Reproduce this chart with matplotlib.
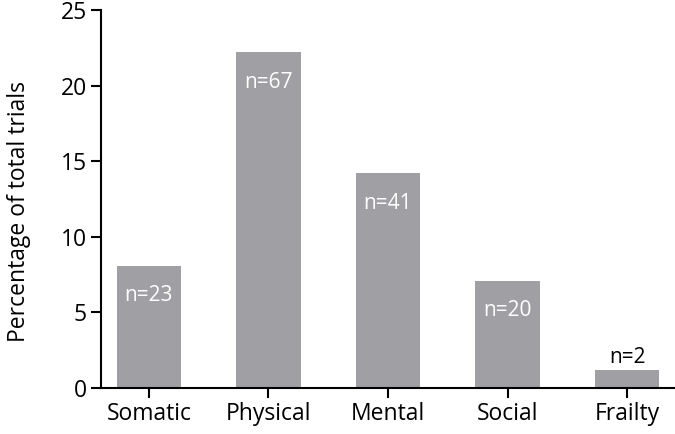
import matplotlib
matplotlib.use("Agg")
import matplotlib.pyplot as plt

plt.rcParams['font.family'] = ['Open Sans', 'DejaVu Sans']

categories = ['Somatic', 'Physical', 'Mental', 'Social', 'Frailty']
percentages = [8.1, 22.2, 14.2, 7.1, 1.2]
counts = [23, 67, 41, 20, 2]

fig = plt.figure(figsize=(6.75, 4.34), dpi=100)
ax = fig.add_axes([0.1496, 0.106, 0.8504, 0.871])

x = range(len(categories))
bars = ax.bar(x, percentages, width=0.54, color='#a0a0a4')

for xi, val, n in zip(x, percentages, counts):
    if val > 4:
        ax.text(xi, val - 2.0, f'n={n}', ha='center', va='center',
                color='white', fontsize=15)
    else:
        ax.text(xi, val + 0.15, f'n={n}', ha='center', va='bottom',
                color='black', fontsize=15)

ax.set_xlim(-0.4, 4.4)
ax.set_ylim(0, 25)
ax.set_yticks([0, 5, 10, 15, 20, 25])
ax.set_xticks(list(x))
ax.set_xticklabels(categories)
ax.set_ylabel('Percentage of total trials', fontsize=16.5)
ax.yaxis.set_label_coords(-0.122, 0.468)

for side in ['top', 'right']:
    ax.spines[side].set_visible(False)
for side in ['left', 'bottom']:
    ax.spines[side].set_linewidth(1.5)
ax.tick_params(axis='both', direction='out', length=7, width=1.5,
               labelsize=16.5, pad=3)

fig.savefig('out.png', dpi=100)
